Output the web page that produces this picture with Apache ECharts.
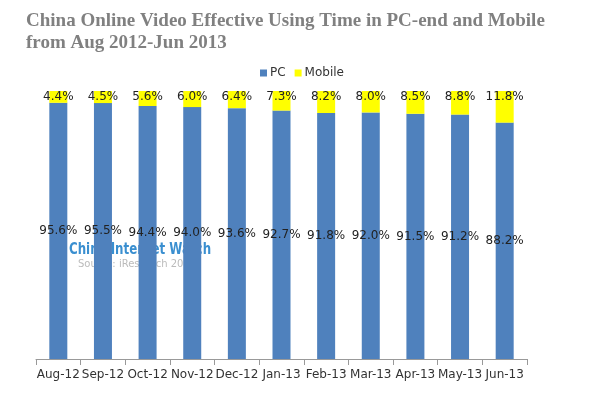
<!DOCTYPE html>
<html>
<head>
<meta charset="utf-8">
<script src="https://cdn.jsdelivr.net/npm/echarts@6/dist/echarts.min.js"></script>
<style>
  html, body { margin: 0; padding: 0; background: #fff; }
  #chart { width: 600px; height: 397px; }
</style>
</head>
<body>
<div id="chart"></div>
<script>
var months = ['Aug-12', 'Sep-12', 'Oct-12', 'Nov-12', 'Dec-12', 'Jan-13', 'Feb-13', 'Mar-13', 'Apr-13', 'May-13', 'Jun-13'];
var pcShare = [95.6, 95.5, 94.4, 94.0, 93.6, 92.7, 91.8, 92.0, 91.5, 91.2, 88.2];
var mobileShare = [4.4, 4.5, 5.6, 6.0, 6.4, 7.3, 8.2, 8.0, 8.5, 8.8, 11.8];

var myChart = echarts.init(document.getElementById('chart'));

var labelFont = {
  fontFamily: 'DejaVu Sans',
  fontSize: 12,
  color: '#222'
};

var option = {
  animation: false,
  title: {
    text: 'China Online Video Effective Using Time in PC-end and Mobile\nfrom Aug 2012-Jun 2013',
    left: 21,
    top: 5,
    textStyle: {
      fontFamily: 'Liberation Serif',
      fontWeight: 'bold',
      fontSize: 19,
      lineHeight: 22,
      color: '#808080'
    }
  },
  legend: {
    data: ['PC', 'Mobile'],
    left: 255,
    top: 62,
    itemWidth: 7,
    itemHeight: 7,
    itemGap: 9,
    icon: 'rect',
    textStyle: {
      fontFamily: 'DejaVu Sans',
      fontSize: 12,
      color: '#333',
      padding: [0, 0, 0, -2]
    }
  },
  graphic: [{
    type: 'text',
    z: -10,
    x: 69,
    y: 242,
    scaleX: 0.74,
    style: {
      text: 'China Internet Watch',
      fontFamily: 'DejaVu Sans',
      fontWeight: 'bold',
      fontSize: 16,
      fill: '#3a8fd0'
    }
  }, {
    type: 'text',
    z: -10,
    x: 78,
    y: 259,
    style: {
      text: 'Source: iResearch 2013',
      fontFamily: 'DejaVu Sans',
      fontSize: 10,
      fill: '#bbb'
    }
  }],
  grid: {
    left: 36,
    right: 73,
    top: 91,
    bottom: 38
  },
  xAxis: {
    type: 'category',
    data: months,
    axisLine: { lineStyle: { color: '#999' } },
    axisTick: { show: true, alignWithLabel: false, length: 6, lineStyle: { color: '#999' } },
    axisLabel: {
      interval: 0,
      fontFamily: 'DejaVu Sans',
      fontSize: 12,
      color: '#333',
      margin: 10
    }
  },
  yAxis: {
    type: 'value',
    min: 0,
    max: 100,
    show: false
  },
  series: [{
    name: 'PC',
    type: 'bar',
    stack: 'total',
    barWidth: 18,
    data: pcShare,
    itemStyle: { color: '#4f81bd' },
    label: Object.assign({
      show: true,
      position: 'inside',
      formatter: function (p) { return p.value.toFixed(1) + '%'; }
    }, labelFont)
  }, {
    name: 'Mobile',
    type: 'bar',
    stack: 'total',
    barWidth: 18,
    data: mobileShare,
    itemStyle: { color: '#ffff00' },
    label: Object.assign({
      show: true,
      position: 'insideTop',
      distance: 0,
      formatter: function (p) { return p.value.toFixed(1) + '%'; }
    }, labelFont)
  }]
};

myChart.setOption(option);
</script>
</body>
</html>
